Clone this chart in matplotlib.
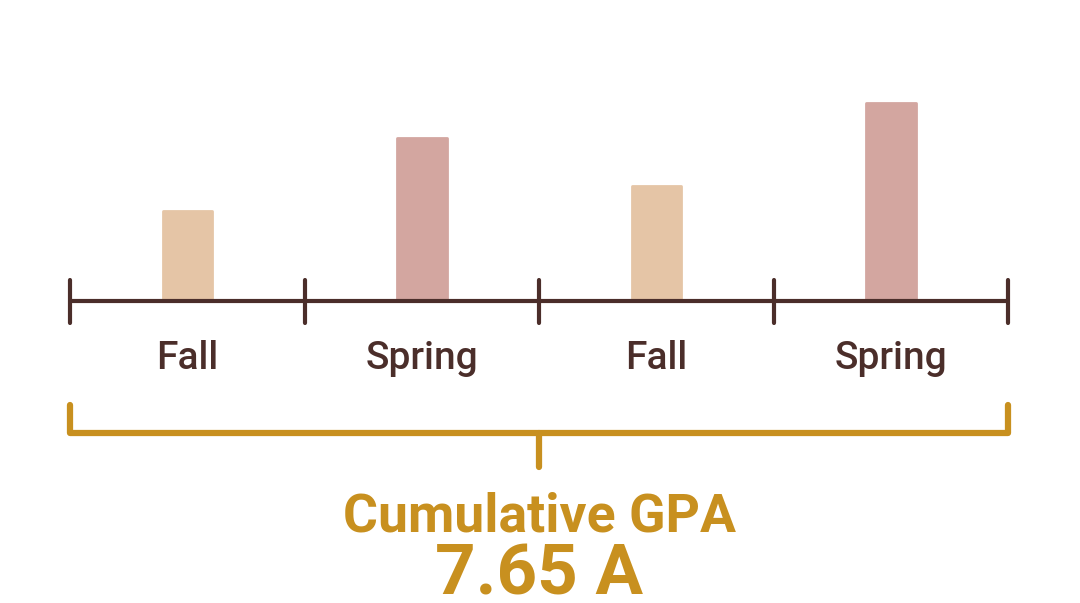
import matplotlib.pyplot as plt

terms = ["Fall", "Spring", "Fall", "Spring"]
heights = [0.455, 0.825, 0.58, 1.0]
bar_colors = ["#E5C5A6", "#D3A6A0", "#E5C5A6", "#D3A6A0"]
summary_label = "Cumulative GPA"
summary_value = "7.65 A"

brown = "#4B2E2A"
gold = "#C8901F"

fig = plt.figure(figsize=(10.8, 6.03), dpi=100)
ax = fig.add_axes([0, 0, 1, 1])
ax.set_xlim(-0.8, 3.807)
ax.set_ylim(-1.525, 1.52)
ax.axis("off")

x = list(range(len(terms)))
ax.bar(x, heights, width=0.212, color=bar_colors, edgecolor=bar_colors,
       linewidth=2, joinstyle="round", zorder=2)

# timeline with term separators
ax.plot([-0.5, 3.5], [0, 0], color=brown, lw=3, solid_capstyle="butt", zorder=3)
for b in [-0.5, 0.5, 1.5, 2.5, 3.5]:
    ax.plot([b, b], [-0.11, 0.105], color=brown, lw=3, solid_capstyle="round", zorder=3)

for xi, t in zip(x, terms):
    ax.text(xi, -0.29, t, ha="center", va="center", color=brown,
            fontsize=28, family="Roboto", weight="medium")

# bracket spanning all terms
ax.plot([-0.5, -0.5, 3.5, 3.5], [-0.525, -0.667, -0.667, -0.525],
        color=gold, lw=4.5, solid_capstyle="round", solid_joinstyle="round")
ax.plot([1.5, 1.5], [-0.667, -0.84], color=gold, lw=4.5, solid_capstyle="round")

ax.text(1.5, -1.165, summary_label, ha="center", va="baseline", color=gold,
        fontsize=38.5, family="Roboto", weight="bold")
ax.text(1.5, -1.48, summary_value, ha="center", va="baseline", color=gold,
        fontsize=51, family="Roboto", weight="bold")

fig.savefig("out.png", dpi=100, facecolor="white")
